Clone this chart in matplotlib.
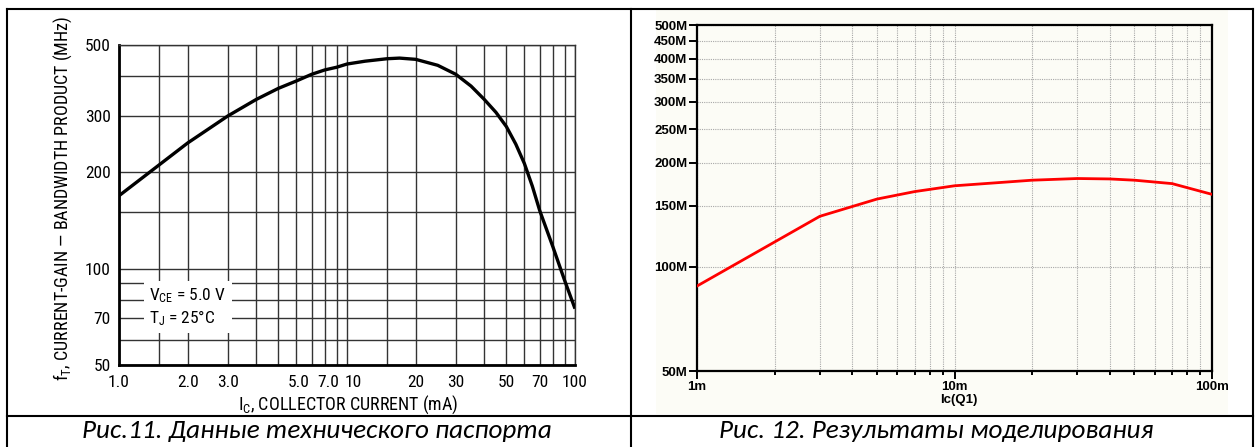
import numpy as np
import matplotlib
matplotlib.use('Agg')
import matplotlib.pyplot as plt
from matplotlib import font_manager
from matplotlib.patches import Rectangle
from matplotlib.lines import Line2D
from matplotlib.transforms import ScaledTranslation
from matplotlib.ticker import FixedLocator, NullFormatter, NullLocator, LogLocator

# Рис.11 - datasheet curve: Ic (mA) -> fT (MHz)
ic_ds = [1, 1.5, 2, 3, 4, 5, 6, 7, 8, 9, 10, 12, 15, 17, 20, 25, 30, 35, 40, 45, 50, 55, 60,
         65, 70, 80, 90, 100]
ft_ds = [169, 211, 247, 300, 338, 366, 386, 405, 418, 426, 436, 445, 453, 455, 451, 432, 405,
         372, 338, 308, 278, 245, 213, 181, 152, 117, 92, 75]

# Рис.12 - LTspice simulation: Ic (A) -> fT (Hz)
ic_sim = [1e-3, 3e-3, 5e-3, 7e-3, 10e-3, 20e-3, 30e-3, 40e-3, 50e-3, 70e-3, 100e-3]
ft_sim = [88e6, 140e6, 157e6, 165e6, 171.5e6, 178e6, 180e6, 179.5e6, 178e6, 174e6, 162e6]

ds_xticks = [1, 2, 3, 5, 7, 10, 20, 30, 50, 70, 100]
ds_xlabels = ['1.0', '2.0', '3.0', '5.0', '7.0', '10', '20', '30', '50', '70', '100']
ds_xgrid = [1.5, 4, 6, 8, 9, 15, 40, 60, 80, 90]
ds_yticks = [50, 70, 100, 200, 300, 500]
ds_ygrid = [60, 80, 90, 150, 400]

sim_yticks = [50e6, 100e6, 150e6, 200e6, 250e6, 300e6, 350e6, 400e6, 450e6, 500e6]
sim_ylabels = ['50M', '100M', '150M', '200M', '250M', '300M', '350M', '400M', '450M', '500M']
sim_xticks = [1e-3, 10e-3, 100e-3]
sim_xlabels = ['1m', '10m', '100m']

caption_left = 'Рис.11. Данные технического паспорта'
caption_right = 'Рис. 12. Результаты моделирования'


def pick_font(names):
    for n in names:
        try:
            font_manager.findfont(n, fallback_to_default=False)
            return n
        except Exception:
            pass
    return 'DejaVu Sans'


narrow = pick_font(['Nimbus Sans Narrow', 'Liberation Sans Narrow', 'Arial Narrow',
                    'Roboto Condensed', 'Archivo Narrow', 'PT Sans Narrow', 'Liberation Sans'])
arial = pick_font(['Liberation Sans', 'Arimo', 'DejaVu Sans'])
capfont = pick_font(['Carlito', 'Open Sans', 'DejaVu Sans'])

plt.rcParams['mathtext.fontset'] = 'custom'
plt.rcParams['mathtext.rm'] = narrow
plt.rcParams['mathtext.it'] = narrow

W, H = 1256, 447
fig = plt.figure(figsize=(W / 100, H / 100), dpi=100)
fig.patch.set_facecolor('white')


def px(x, y):
    return x / W, 1 - y / H


# LTspice screenshot background
x0, y0 = px(656, 414)
x1, y1 = px(1228, 9)
fig.patches.append(Rectangle((x0, y0), x1 - x0, y1 - y0, transform=fig.transFigure,
                             facecolor='#fcfcf6', edgecolor='none', zorder=-5))

# ---------- left: datasheet ----------
ax1 = fig.add_axes([119 / W, 1 - 365 / H, (575 - 119) / W, (365 - 45) / H])
ax1.set_xscale('log')
ax1.set_yscale('log')
ax1.set_xlim(1, 100)
ax1.set_ylim(50, 500)
ax1.xaxis.set_major_locator(FixedLocator(ds_xticks))
ax1.xaxis.set_minor_locator(FixedLocator(ds_xgrid))
ax1.yaxis.set_major_locator(FixedLocator(ds_yticks))
ax1.yaxis.set_minor_locator(FixedLocator(ds_ygrid))
ax1.set_xticklabels(ds_xlabels)
ax1.set_yticklabels([str(v) for v in ds_yticks])
ax1.xaxis.set_minor_formatter(NullFormatter())
ax1.yaxis.set_minor_formatter(NullFormatter())
ax1.tick_params(which='both', length=0)
ax1.tick_params(axis='x', pad=7)
ax1.tick_params(axis='y', pad=6)
for lab in ax1.get_xticklabels() + ax1.get_yticklabels():
    lab.set_fontfamily(narrow)
    lab.set_fontsize(12.5)
# the datasheet prints "5.0 7.0 10" a bit to the right of their grid lines
shift = {'5.0': 20, '7.0': 17, '10': 6}
for lab in ax1.get_xticklabels():
    if lab.get_text() in shift:
        lab.set_transform(lab.get_transform() +
                          ScaledTranslation(shift[lab.get_text()] / 100, 0, fig.dpi_scale_trans))
ax1.grid(True, which='both', color='#333333', linewidth=1.0)
ax1.set_axisbelow(True)
for s in ['top', 'right']:
    ax1.spines[s].set_color('#333333')
    ax1.spines[s].set_linewidth(1.0)
for s in ['left', 'bottom']:
    ax1.spines[s].set_linewidth(2.0)
ax1.plot(ic_ds, ft_ds, color='black', linewidth=2.4, zorder=5, solid_capstyle='butt')

ax1.text(1.36, 76, r'$\mathrm{V_{CE}}$ = 5.0 V' + '\n' + r'$\mathrm{T_J}$ = 25°C',
         fontfamily=narrow, fontsize=12.5, va='center', ha='left', linespacing=1.2,
         bbox=dict(facecolor='white', edgecolor='none', pad=4), zorder=4)

ax1.text(-0.123, 0.52, r'$\mathrm{f_T}$, CURRENT-GAIN — BANDWIDTH PRODUCT (MHz)',
         transform=ax1.transAxes, rotation=90, ha='center', va='center',
         fontfamily=narrow, fontsize=13)
ax1.text(0.502, -0.125, r'$\mathrm{I_C}$, COLLECTOR CURRENT (mA)', transform=ax1.transAxes,
         ha='center', va='center', fontfamily=narrow, fontsize=13)

# ---------- right: simulation ----------
ax2 = fig.add_axes([697 / W, 1 - 371 / H, (1212 - 697) / W, (371 - 25) / H])
ax2.set_facecolor('#fcfcf6')
ax2.set_xscale('log')
ax2.set_yscale('log')
ax2.set_xlim(1e-3, 100e-3)
ax2.set_ylim(50e6, 500e6)
ax2.xaxis.set_major_locator(FixedLocator(sim_xticks))
ax2.xaxis.set_minor_locator(LogLocator(base=10, subs=np.arange(2, 10)))
ax2.yaxis.set_major_locator(FixedLocator(sim_yticks))
ax2.yaxis.set_minor_locator(NullLocator())
ax2.set_xticklabels(sim_xlabels)
ax2.set_yticklabels(sim_ylabels)
ax2.xaxis.set_minor_formatter(NullFormatter())
ax2.tick_params(which='major', direction='out', length=6, width=1.4, color='black', pad=1)
ax2.tick_params(axis='x', which='minor', direction='out', length=3, width=1.4, color='black')
for lab in ax2.get_xticklabels() + ax2.get_yticklabels():
    lab.set_fontfamily(arial)
    lab.set_fontweight('bold')
    lab.set_fontsize(9.5)
ax2.grid(True, which='both', color='#a8a8a8', linestyle=(0, (1, 1)), linewidth=0.8)
for s in ax2.spines.values():
    s.set_linewidth(1.6)
    s.set_color('black')
ax2.plot(ic_sim, ft_sim, color='#ff0000', linewidth=2.0, zorder=5)
ax2.text(10.4e-3, -0.085, 'Ic(Q1)', transform=ax2.get_xaxis_transform(), ha='center',
         va='center', fontfamily=arial, fontweight='bold', fontsize=9.5)

# ---------- table borders and captions ----------
lw = 1.5
for (xa, ya), (xb, yb) in [((7, 9), (1253, 9)), ((7, 9), (7, 447)), ((1253, 9), (1253, 447)),
                           ((631, 9), (631, 447)), ((7, 416), (1253, 416))]:
    pa, pb = px(xa, ya), px(xb, yb)
    fig.lines.append(Line2D([pa[0], pb[0]], [pa[1], pb[1]], transform=fig.transFigure,
                            color='black', linewidth=lw, zorder=10))

fig.text(317 / W, 1 - 438 / H, caption_left, ha='center', va='baseline',
         fontfamily=capfont, fontstyle='italic', fontsize=19.5)
fig.text(936 / W, 1 - 438 / H, caption_right, ha='center', va='baseline',
         fontfamily=capfont, fontstyle='italic', fontsize=19.5)

fig.savefig('out.png', dpi=100, facecolor='white')
